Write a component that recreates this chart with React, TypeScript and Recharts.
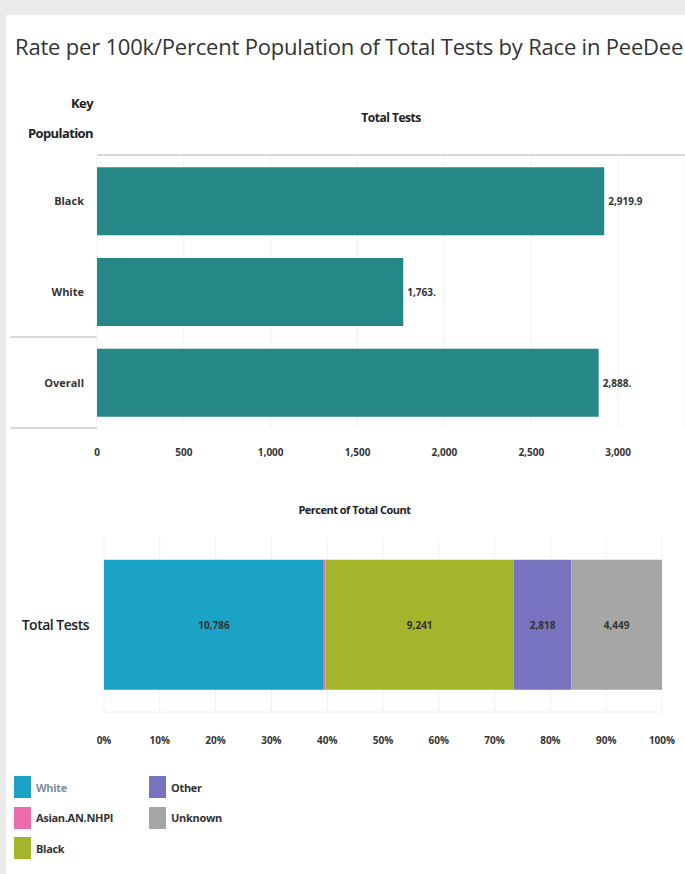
import React from "react";
import { BarChart, Bar, XAxis, YAxis, CartesianGrid, LabelList } from "recharts";

const groups = ["Black", "White", "Overall"];
const rates = [2919.9, 1763, 2888];
const rateLabels = ["2,919.9", "1,763.", "2,888."];
const rateTicks = [0, 500, 1000, 1500, 2000, 2500, 3000];

const races = ["White", "Asian.AN.NHPI", "Black", "Other", "Unknown"];
const raceCounts = [10786, 85, 9241, 2818, 4449];
const raceColors = ["#1ba3c6", "#ee6bab", "#a4b52b", "#7773bf", "#a6a6a6"];
const pctTicks = [0, 0.1, 0.2, 0.3, 0.4, 0.5, 0.6, 0.7, 0.8, 0.9, 1];

const TEAL = "#258886";
const FONT = "'Open Sans', 'DejaVu Sans', sans-serif";

const rateData = groups.map((name, i) => ({ name, value: rates[i] }));

const pctRow: Record<string, string | number> = { name: "Total Tests" };
races.forEach((r, i) => {
  pctRow[r] = raceCounts[i];
});
const pctData = [pctRow];

function fmt(n: number) {
  return n.toLocaleString("en-US");
}

function RateTick({ x, y, payload }: any) {
  return (
    <text x={x - 5} y={y} dy={4} textAnchor="end" fontSize={11} fontWeight={700} fill="#333" fontFamily={FONT}>
      {payload.value}
    </text>
  );
}

function XTick({ x, y, payload, pct, off }: any) {
  const label = pct ? Math.round(payload.value * 100) + "%" : fmt(payload.value);
  return (
    <text x={x} y={y + off} textAnchor="middle" fontSize={10} fontWeight={700} fill="#333" fontFamily={FONT}>
      {label}
    </text>
  );
}

function RateLabel({ x, y, width, height, index }: any) {
  return (
    <text x={x + width + 4} y={y + height / 2 + 4} fontSize={10} fontWeight={700} fill="#333" fontFamily={FONT}>
      {rateLabels[index]}
    </text>
  );
}

function segLabel(race: string, i: number) {
  return ({ x, y, width, height }: any) => {
    if (width < 30) return null;
    return (
      <text
        key={race}
        x={x + width / 2}
        y={y + height / 2 + 4}
        textAnchor="middle"
        fontSize={10}
        fontWeight={700}
        fill="#333"
        fontFamily={FONT}
      >
        {fmt(raceCounts[i])}
      </text>
    );
  };
}

export default function App() {
  return (
    <div
      style={{
        position: "absolute",
        left: 0,
        top: 0,
        width: 685,
        height: 874,
        background: "#ebebeb",
        fontFamily: FONT,
        overflow: "hidden",
      }}
    >
      <div style={{ position: "absolute", left: 6, top: 15, width: 679, height: 859, background: "#fff" }} />

      <div style={{ position: "absolute", left: 15, top: 31, fontSize: 22, color: "#333", whiteSpace: "nowrap", letterSpacing: -0.2 }}>
        Rate per 100k/Percent Population of Total Tests by Race in PeeDee
      </div>

      <div style={{ position: "absolute", right: 685 - 93, top: 88, fontSize: 13, fontWeight: 700, color: "#222", textAlign: "right", lineHeight: "30px", letterSpacing: -0.6 }}>
        Key
        <br />
        Population
      </div>
      <div style={{ position: "absolute", left: 97, width: 588, top: 109, fontSize: 12, fontWeight: 700, color: "#222", textAlign: "center", letterSpacing: -0.5 }}>
        Total Tests
      </div>

      {/* row dividers */}
      <div style={{ position: "absolute", left: 97, top: 154, width: 588, height: 2, background: "#d9d9d9" }} />
      <div style={{ position: "absolute", left: 10, top: 336, width: 87, height: 2, background: "#d9d9d9" }} />
      <div style={{ position: "absolute", left: 10, top: 427, width: 87, height: 2, background: "#d9d9d9" }} />

      <div style={{ position: "absolute", left: 0, top: 156 }}>
        <BarChart
          width={685}
          height={312}
          data={rateData}
          layout="vertical"
          margin={{ top: 0, right: 0, bottom: 0, left: 0 }}
          barCategoryGap="12.5%"
        >
          <CartesianGrid horizontal={false} stroke="#f0f0f0" />
          <XAxis
            type="number"
            domain={[0, 3385]}
            ticks={rateTicks}
            axisLine={false}
            tickLine={false}
            height={40}
            tick={<XTick off={20} />}
            interval={0}
          />
          <YAxis type="category" dataKey="name" width={97} axisLine={false} tickLine={false} tick={<RateTick />} />
          <Bar dataKey="value" fill={TEAL} isAnimationActive={false}>
            <LabelList dataKey="value" content={<RateLabel />} />
          </Bar>
        </BarChart>
      </div>

      <div style={{ position: "absolute", left: 0, width: 685, top: 502, fontSize: 11, fontWeight: 700, color: "#222", textAlign: "center", letterSpacing: -0.5, paddingLeft: 12 }}>
        Percent of Total Count
      </div>

      <div style={{ position: "absolute", left: 0, top: 537 }}>
        <BarChart
          width={685}
          height={216}
          data={pctData}
          layout="vertical"
          stackOffset="expand"
          margin={{ top: 0, right: 23, bottom: 0, left: 0 }}
          barCategoryGap="13%"
        >
          <CartesianGrid stroke="#f0f0f0" horizontalPoints={[175]} />
          <XAxis
            type="number"
            domain={[0, 1]}
            ticks={pctTicks}
            axisLine={false}
            tickLine={false}
            height={41}
            tick={<XTick pct off={24} />}
            interval={0}
          />
          <YAxis
            type="category"
            dataKey="name"
            width={104}
            axisLine={false}
            tickLine={false}
            tick={({ x, y, payload }: any) => (
              <text x={x - 7} y={y} dy={5} textAnchor="end" fontSize={14} fontWeight={600} fill="#222" fontFamily={FONT} letterSpacing={-0.5}>
                {payload.value}
              </text>
            )}
          />
          {races.map((r, i) => (
            <Bar key={r} dataKey={r} stackId="a" fill={raceColors[i]} isAnimationActive={false}>
              <LabelList dataKey={r} content={segLabel(r, i)} />
            </Bar>
          ))}
        </BarChart>
      </div>

      {/* legend */}
      {races.map((r, i) => {
        const col = i < 3 ? 0 : 1;
        const row = i < 3 ? i : i - 3;
        const left = col === 0 ? 14 : 149;
        const top = 776 + row * 30.5;
        return (
          <div key={r} style={{ position: "absolute", left, top, display: "flex", alignItems: "center" }}>
            <div style={{ width: 17, height: 22, background: raceColors[i] }} />
            <span
              style={{
                marginLeft: 5,
                fontSize: 11,
                fontWeight: 700,
                color: i === 0 ? "#7f8fa0" : "#333",
                letterSpacing: -0.3,
              }}
            >
              {r}
            </span>
          </div>
        );
      })}
    </div>
  );
}
